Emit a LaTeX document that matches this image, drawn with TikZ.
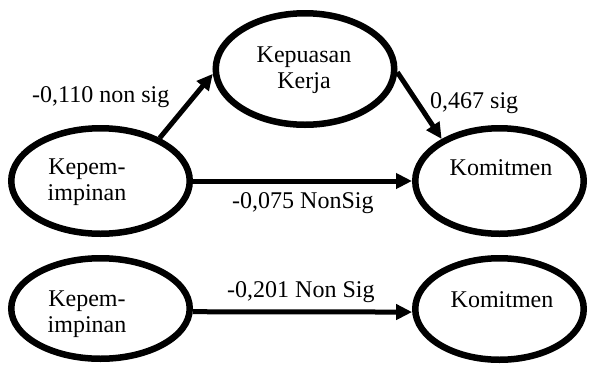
\documentclass[tikz,border=0pt]{standalone}
\usepackage{fontspec}
\setmainfont{Liberation Serif}
\usetikzlibrary{arrows.meta,shapes.geometric}
\begin{document}
\begin{tikzpicture}[x=1pt,y=-1pt,
  latent/.style={draw,ellipse,line width=6.5pt,inner sep=0pt},
  txt/.style={font=\fontsize{24}{25.5}\selectfont,inner sep=0pt,align=center,anchor=base},
  lbl/.style={font=\fontsize{24}{25}\selectfont,inner sep=0pt,anchor=base west},
  path/.style={line width=5pt,-{Triangle[length=16pt,width=15pt]}}]
\useasboundingbox (0,0) rectangle (590,365);

% constructs
\node[latent,minimum width=178.5pt,minimum height=111.5pt] (kk) at (305,69) {};
\node[latent,minimum width=178.5pt,minimum height=105.5pt] (k1) at (100.5,181) {};
\node[latent,minimum width=168.5pt,minimum height=105.5pt] (km1) at (499.5,181) {};
\node[latent,minimum width=178.5pt,minimum height=100.5pt] (k2) at (100.5,308.5) {};
\node[latent,minimum width=168.5pt,minimum height=101.5pt] (km2) at (499.5,309) {};

% construct names (base = baseline of the last line)
\node[txt] (tkk) at (304,88) {Kepuasan\\Kerja};
\node[txt] (tk1) at (87,200) {Kepem-\\impinan};
\node[txt] (tkm1) at (501,175) {Komitmen};
\node[txt] (tk2) at (87,332) {Kepem-\\impinan};
\node[txt] (tkm2) at (502,307) {Komitmen};

% paths
\draw[path] (k1.36) -- (kk.183.5);
\draw[path] (kk.-2) -- (km1.144);
\draw[path] (k1.east) -- (km1.west);
\draw[path] (k2.-2.3) -- (km2.182);

% coefficients
\node[lbl] (c1) at (32,102) {-0,110 non sig};
\node[lbl] (c2) at (430,108) {0,467 sig};
\node[lbl] (c3) at (232,208) {-0,075 NonSig};
\node[lbl] (c4) at (227,297) {-0,201 Non Sig};
\end{tikzpicture}
\end{document}
